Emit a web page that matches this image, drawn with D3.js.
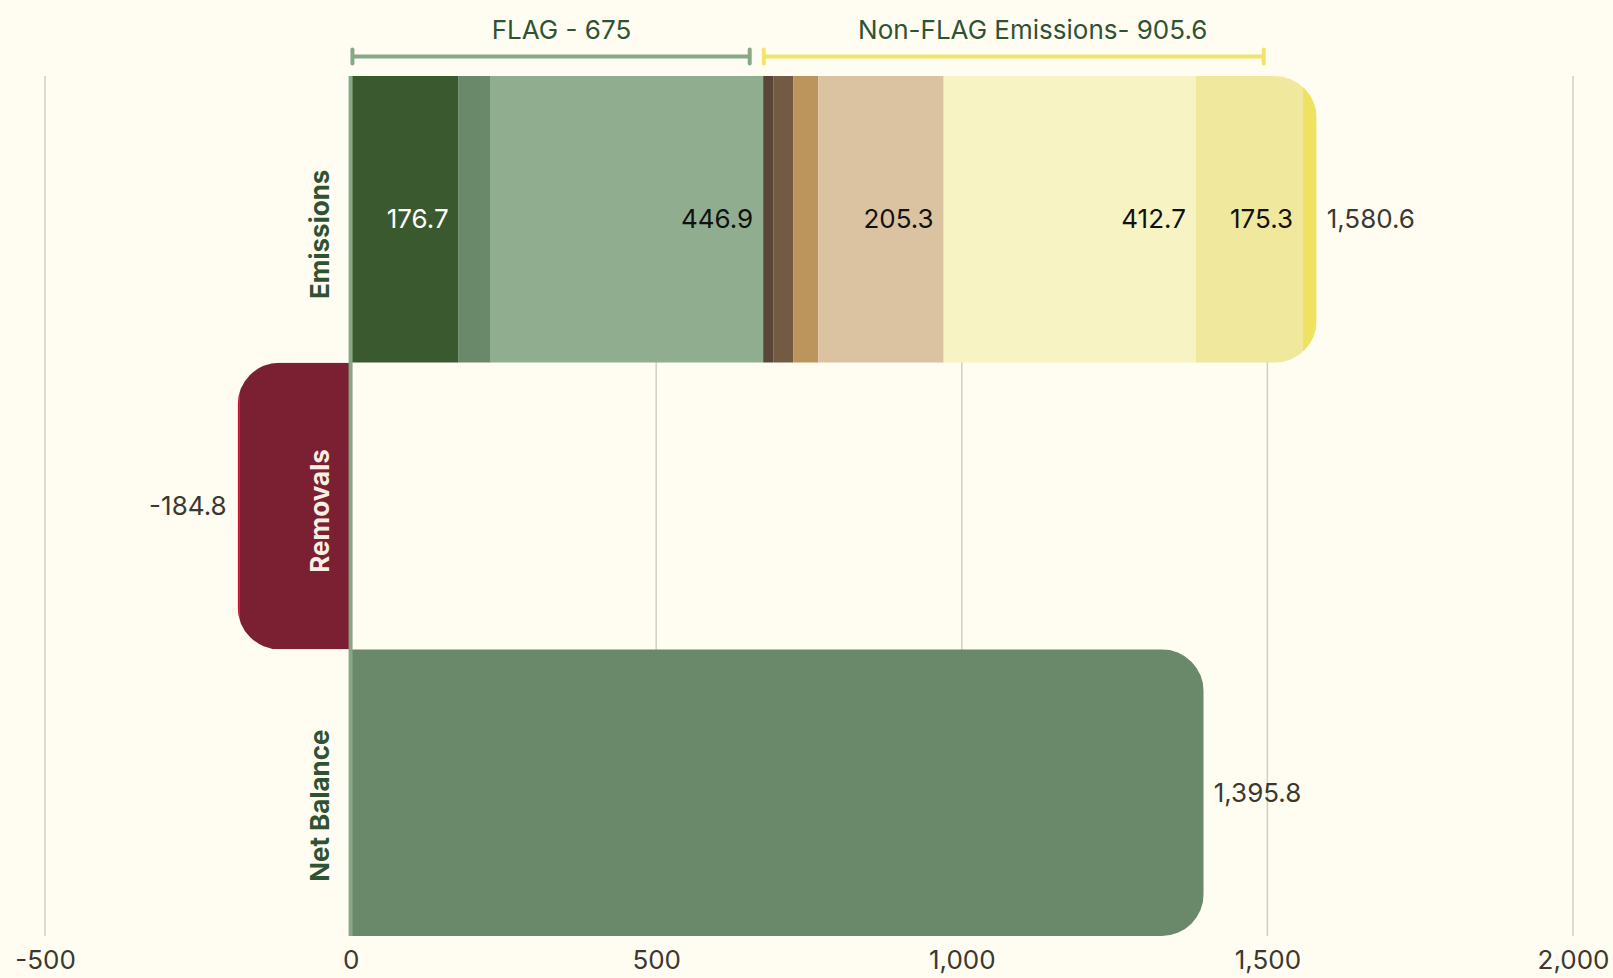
<!DOCTYPE html>
<html>
<head>
<meta charset="utf-8">
<script src="https://cdn.jsdelivr.net/npm/d3@7"></script>
<style>
  html, body { margin: 0; padding: 0; background: #fffdf1; }
  svg { display: block; font-family: Inter, "Noto Sans", sans-serif; }
</style>
</head>
<body>
<svg id="chart" width="1613" height="978"></svg>
<script>
// ---------- data ----------
const categories = ["Emissions", "Removals", "Net Balance"];
const emissionValues = [176.7, 51.4, 446.9, 16.4, 32.7, 40.9, 205.3, 412.7, 175.3, 22.3];
const emissionColors = ["#3b592f", "#69896a", "#90ae8f", "#5a4638", "#735b43", "#bb955c", "#dbc3a2", "#f7f3c3", "#f0e89c", "#efe262"];
const emissionLabelColors = ["#ffffff", "#ffffff", "#111111", "#ffffff", "#ffffff", "#111111", "#111111", "#111111", "#111111", "#111111"];
const removalValues = [-182.3, -2.5];
const removalColors = ["#7b1f32", "#c41230"];
const netValues = [1395.8];
const netColors = ["#69896a"];
const totals = [1580.6, -184.8, 1395.8];
const groupNames = ["FLAG - 675", "Non-FLAG Emissions- 905.6"];
const groupLabelCenters = [345, 1116];
const bracketStarts = [3, 676];
const bracketEnds = [653, 1494];
const groupColors = ["#87a985", "#f0e46a"];
const tickValues = [-500, 0, 500, 1000, 1500, 2000];
const labelOffsets = [15, 5, 13];

// ---------- layout ----------
const svg = d3.select("#chart");
const x = d3.scaleLinear().domain([-500, 2000]).range([45, 1573]);
const y = d3.scaleBand().domain(categories).range([76, 936]).padding(0);
const R = 42;
const FS = 26;
const hy = s => s.replace("\u2212", "-");
const fmt = v => hy(d3.format(",.1f")(v));

// grid
svg.append("g").selectAll("line").data(tickValues).join("line")
  .attr("x1", d => x(d)).attr("x2", d => x(d))
  .attr("y1", 76).attr("y2", 936)
  .attr("stroke", "#d2cfc2").attr("stroke-width", 1.5);

// tick labels via axis
const axis = svg.append("g").attr("transform", "translate(0,936)")
  .call(d3.axisBottom(x).tickValues(tickValues).tickFormat(d => hy(d3.format(",")(d))).tickSize(0).tickPadding(15));
axis.select(".domain").remove();
axis.selectAll("text").attr("font-size", FS).attr("fill", "#3b3831").attr("font-family", "Inter");

function roundedPath(x0, x1, y0, y1, r, side) {
  const p = d3.path();
  if (side === "right") {
    p.moveTo(x0, y0);
    p.lineTo(x1 - r, y0);
    p.arcTo(x1, y0, x1, y0 + r, r);
    p.lineTo(x1, y1 - r);
    p.arcTo(x1, y1, x1 - r, y1, r);
    p.lineTo(x0, y1);
  } else {
    p.moveTo(x1, y0);
    p.lineTo(x0 + r, y0);
    p.arcTo(x0, y0, x0, y0 + r, r);
    p.lineTo(x0, y1 - r);
    p.arcTo(x0, y1, x0 + r, y1, r);
    p.lineTo(x1, y1);
  }
  p.closePath();
  return p.toString();
}

function stack(values) {
  let acc = 0;
  return values.map((v, i) => { const s = acc; acc += v; return { v, i, a: Math.min(s, acc), b: Math.max(s, acc) }; });
}

const defs = svg.append("defs");
const rows = [
  { cat: "Emissions", values: emissionValues, colors: emissionColors, lc: emissionLabelColors },
  { cat: "Removals", values: removalValues, colors: removalColors, lc: ["#ffffff", "#ffffff"] },
  { cat: "Net Balance", values: netValues, colors: netColors, lc: ["#ffffff"] }
];

rows.forEach((row, ri) => {
  const segs = stack(row.values);
  const total = d3.sum(row.values);
  const y0 = y(row.cat), y1 = y0 + y.bandwidth();
  const side = total >= 0 ? "right" : "left";
  const clipId = "clip" + ri;
  defs.append("clipPath").attr("id", clipId).append("path")
    .attr("d", roundedPath(x(Math.min(0, total)), x(Math.max(0, total)), y0, y1, R, side));
  const g = svg.append("g").attr("clip-path", `url(#${clipId})`);
  g.selectAll("rect").data(segs).join("rect")
    .attr("x", d => x(d.a)).attr("width", d => x(d.b) - x(d.a))
    .attr("y", y0).attr("height", y1 - y0)
    .attr("fill", d => row.colors[d.i]);
  // inner value labels
  svg.append("g").selectAll("text").data(segs.filter(d => Math.abs(d.v) >= 100 && row.values.length > 1 && total > 0)).join("text")
    .attr("x", d => x(d.b) - 10)
    .attr("y", (y0 + y1) / 2)
    .attr("dy", "0.35em")
    .attr("text-anchor", "end")
    .attr("font-size", FS)
    .attr("fill", d => row.lc[d.i])
    .text(d => fmt(d.v));
  // total label
  svg.append("text")
    .attr("x", total >= 0 ? x(total) + 10 : x(total) - 11)
    .attr("y", (y0 + y1) / 2)
    .attr("dy", "0.35em")
    .attr("text-anchor", total >= 0 ? "start" : "end")
    .attr("font-size", FS)
    .attr("fill", "#3b3831")
    .text(fmt(totals[ri]));
});

// zero line
svg.append("line")
  .attr("x1", x(0)).attr("x2", x(0))
  .attr("y1", 76).attr("y2", 936)
  .attr("stroke", "#87a887").attr("stroke-width", 4);

// category labels (rotated)
svg.append("g").selectAll("text").data(categories).join("text")
  .attr("transform", (d, i) => `translate(${x(0) - 31},${y(d) + y.bandwidth() / 2 + labelOffsets[i]}) rotate(-90)`)
  .attr("text-anchor", "middle")
  .attr("dy", "0.35em")
  .attr("font-size", FS)
  .attr("font-weight", 700)
  .attr("fill", (d, i) => i === 1 ? "#f7f0e2" : "#2f5233")
  .text(d => d);

// group brackets
const bg = svg.append("g");
groupNames.forEach((name, i) => {
  const xa = x(bracketStarts[i]), xb = x(bracketEnds[i]);
  const by = 56.5;
  bg.append("line").attr("x1", xa).attr("x2", xb).attr("y1", by).attr("y2", by)
    .attr("stroke", groupColors[i]).attr("stroke-width", 4);
  [xa, xb].forEach(xx => bg.append("line")
    .attr("x1", xx).attr("x2", xx).attr("y1", by - 7).attr("y2", by + 7)
    .attr("stroke", groupColors[i]).attr("stroke-width", 4).attr("stroke-linecap", "round"));
  bg.append("text")
    .attr("x", x(groupLabelCenters[i]))
    .attr("y", 30).attr("dy", "0.35em")
    .attr("text-anchor", "middle")
    .attr("font-size", FS)
    .attr("fill", "#2f5235")
    .text(name);
});
</script>
</body>
</html>
